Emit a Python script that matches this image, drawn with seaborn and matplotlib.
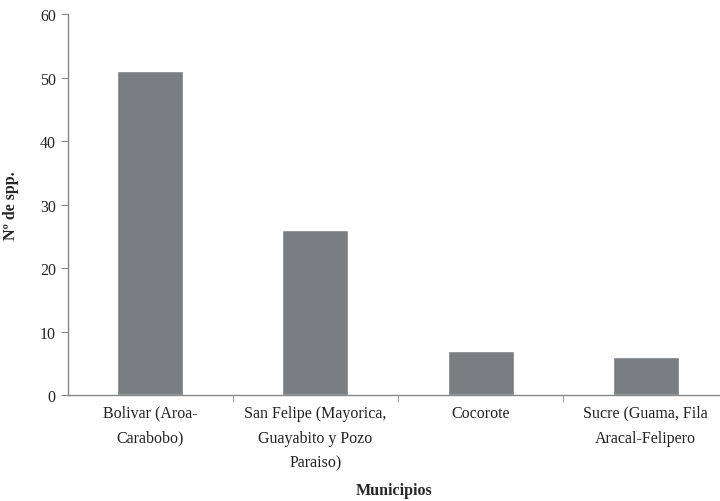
import pandas as pd
import seaborn as sns
import matplotlib.pyplot as plt

# Data
municipios = ["Bolivar (Aroa-\nCarabobo)",
              "San Felipe (Mayorica,\nGuayabito y Pozo\nParaiso)",
              "Cocorote",
              "Sucre (Guama, Fila\nAracal-Felipero"]
n_spp = [51, 26, 7, 6]

df = pd.DataFrame({"Municipios": municipios, "spp": n_spp})

sns.set_style("white")
plt.rcParams['font.family'] = ['Liberation Serif', 'DejaVu Serif']

fig = plt.figure(figsize=(7.2, 5.02), dpi=100)
ax = fig.add_axes([0.094, 0.211, 0.906, 0.759])

sns.barplot(data=df, x="Municipios", y="spp", color="#7b7e81",
            width=0.4, saturation=1, ax=ax)

ax.set_xlim(-0.5, 3.45)
ax.set_ylim(0, 60)
ax.set_yticks(range(0, 61, 10))

# ticks between categories on x axis
ax.set_xticks([0, 1, 2, 3])
ax.set_xticklabels(municipios, fontsize=11.5, color="#222222", linespacing=1.75)
ax.set_xticks([0.5, 1.5, 2.5], minor=True)
ax.tick_params(axis="x", which="major", length=0, pad=7)
ax.tick_params(axis="x", which="minor", length=5, color="#888888", direction="out", bottom=True)
ax.tick_params(axis="y", length=5, color="#888888", direction="out", left=True,
               labelsize=11.5, labelcolor="#222222")

for s in ["top", "right"]:
    ax.spines[s].set_visible(False)
for s in ["left", "bottom"]:
    ax.spines[s].set_color("#888888")
    ax.spines[s].set_linewidth(1)

ax.set_ylabel("Nº de spp.", fontsize=11.5, fontweight="bold")
ax.yaxis.set_label_coords(-0.075, 0.5)
ax.set_xlabel("Municipios", fontsize=11.5, fontweight="bold")
ax.xaxis.set_label_coords(0.5, -0.228)

fig.savefig("out.png", dpi=100)
